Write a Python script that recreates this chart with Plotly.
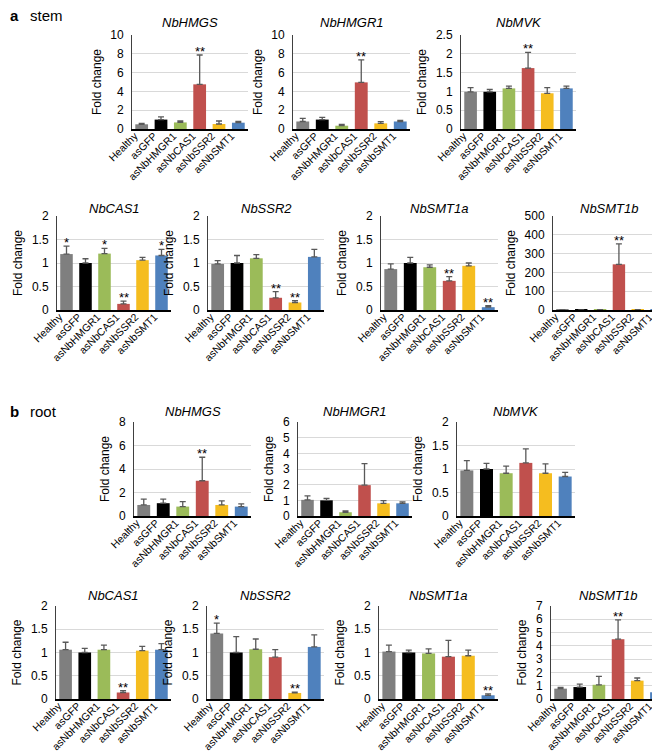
import plotly.graph_objects as go

W, H = 660, 755

categories = ["Healthy", "asGFP", "asNbHMGR1", "asNbCAS1", "asNbSSR2", "asNbSMT1"]
colors = ["#7F7F7F", "#000000", "#9BBB59", "#C0504D", "#F5BD1F", "#4F81BD"]

# ---- stem ----
stem_HMGS = [0.5, 1.0, 0.7, 4.75, 0.53, 0.67]
stem_HMGS_err = [0.1, 0.28, 0.15, 3.12, 0.32, 0.15]
stem_HMGS_sig = ["", "", "", "**", "", ""]

stem_HMGR1 = [0.8, 1.0, 0.35, 4.96, 0.6, 0.8]
stem_HMGR1_err = [0.33, 0.24, 0.15, 2.4, 0.18, 0.12]
stem_HMGR1_sig = ["", "", "", "**", "", ""]

stem_MVK = [0.99, 0.99, 1.08, 1.62, 0.95, 1.08]
stem_MVK_err = [0.11, 0.06, 0.06, 0.42, 0.15, 0.06]
stem_MVK_sig = ["", "", "", "**", "", ""]

stem_CAS1 = [1.19, 1.0, 1.2, 0.13, 1.06, 1.16]
stem_CAS1_err = [0.17, 0.09, 0.11, 0.06, 0.06, 0.13]
stem_CAS1_sig = ["*", "", "*", "**", "", "*"]

stem_SSR2 = [0.98, 1.0, 1.1, 0.26, 0.16, 1.13]
stem_SSR2_err = [0.07, 0.16, 0.08, 0.13, 0.04, 0.16]
stem_SSR2_sig = ["", "", "", "**", "**", ""]

stem_SMT1a = [0.87, 1.0, 0.91, 0.62, 0.94, 0.06]
stem_SMT1a_err = [0.11, 0.12, 0.05, 0.09, 0.06, 0.03]
stem_SMT1a_sig = ["", "", "", "**", "", "**"]

stem_SMT1b = [0.8, 1.0, 1.2, 243, 1.5, 0.3]
stem_SMT1b_err = [0.05, 0.05, 0.05, 109, 0.05, 0.05]
stem_SMT1b_sig = ["", "", "", "**", "", ""]

# ---- root ----
root_HMGS = [0.94, 1.09, 0.8, 3.0, 0.94, 0.8]
root_HMGS_err = [0.49, 0.34, 0.43, 2.0, 0.35, 0.23]
root_HMGS_sig = ["", "", "", "**", "", ""]

root_HMGR1 = [1.03, 1.0, 0.24, 1.97, 0.81, 0.81]
root_HMGR1_err = [0.25, 0.13, 0.08, 1.37, 0.17, 0.09]
root_HMGR1_sig = ["", "", "", "", "", ""]

root_MVK = [0.97, 1.0, 0.91, 1.13, 0.91, 0.84]
root_MVK_err = [0.21, 0.12, 0.15, 0.3, 0.2, 0.09]
root_MVK_sig = ["", "", "", "", "", ""]

root_CAS1 = [1.06, 1.0, 1.06, 0.14, 1.04, 1.06]
root_CAS1_err = [0.16, 0.09, 0.1, 0.04, 0.09, 0.13]
root_CAS1_sig = ["", "", "", "**", "", ""]

root_SSR2 = [1.41, 1.0, 1.07, 0.9, 0.13, 1.12]
root_SSR2_err = [0.22, 0.34, 0.22, 0.16, 0.02, 0.26]
root_SSR2_sig = ["*", "", "", "", "**", ""]

root_SMT1a = [1.02, 1.0, 0.98, 0.91, 0.93, 0.08]
root_SMT1a_err = [0.14, 0.05, 0.1, 0.35, 0.12, 0.03]
root_SMT1a_sig = ["", "", "", "", "", "**"]

root_SMT1b = [0.78, 0.9, 1.07, 4.5, 1.38, 0.5]
root_SMT1b_err = [0.1, 0.22, 0.63, 1.45, 0.2, 0.25]
root_SMT1b_sig = ["", "", "", "**", "", ""]

FONT = "Arial, Liberation Sans, sans-serif"

# panel: (title, values, err, sig, x px range, y px range, y max, dtick, title y px)
panels = [
    ("NbHMGS", stem_HMGS, stem_HMGS_err, stem_HMGS_sig, (124, 240), (27, 121), 10, 2, 15),
    ("NbHMGR1", stem_HMGR1, stem_HMGR1_err, stem_HMGR1_sig, (285, 402), (27, 121), 10, 2, 15),
    ("NbMVK", stem_MVK, stem_MVK_err, stem_MVK_sig, (453, 568), (27, 121), 2.5, 0.5, 15),
    ("NbCAS1", stem_CAS1, stem_CAS1_err, stem_CAS1_sig, (49, 163), (208, 302), 2, 0.5, 200),
    ("NbSSR2", stem_SSR2, stem_SSR2_err, stem_SSR2_sig, (200, 316), (208, 302), 2, 0.5, 200),
    ("NbSMT1a", stem_SMT1a, stem_SMT1a_err, stem_SMT1a_sig, (373, 490), (208, 302), 2, 0.5, 200),
    ("NbSMT1b", stem_SMT1b, stem_SMT1b_err, stem_SMT1b_sig, (545, 658), (208, 302), 500, 100, 200),
    ("NbHMGS", root_HMGS, root_HMGS_err, root_HMGS_sig, (126, 243), (414, 508), 8, 2, 403),
    ("NbHMGR1", root_HMGR1, root_HMGR1_err, root_HMGR1_sig, (290, 404), (414, 508), 6, 1, 403),
    ("NbMVK", root_MVK, root_MVK_err, root_MVK_sig, (449, 567), (414, 508), 2, 0.5, 403),
    ("NbCAS1", root_CAS1, root_CAS1_err, root_CAS1_sig, (48, 163), (598, 691), 2, 0.5, 587),
    ("NbSSR2", root_SSR2, root_SSR2_err, root_SSR2_sig, (199, 316), (598, 691), 2, 0.5, 587),
    ("NbSMT1a", root_SMT1a, root_SMT1a_err, root_SMT1a_sig, (371, 490), (598, 691), 2, 0.5, 587),
    ("NbSMT1b", root_SMT1b, root_SMT1b_err, root_SMT1b_sig, (543, 658), (598, 691), 7, 1, 587),
]

fig = go.Figure()
annotations = []
layout = {}

for i, (title, vals, errs, sig, xpx, ypx, ymax, dtick, ty) in enumerate(panels, start=1):
    xa = "x" if i == 1 else f"x{i}"
    ya = "y" if i == 1 else f"y{i}"
    fig.add_trace(go.Bar(
        x=categories, y=vals, xaxis=xa, yaxis=ya,
        marker=dict(color=colors, line=dict(width=0)),
        error_y=dict(type="data", symmetric=False, array=errs,
                     arrayminus=[0] * len(errs), color="#595959",
                     thickness=1.3, width=3),
        showlegend=False, hoverinfo="skip",
    ))
    xkey = "xaxis" if i == 1 else f"xaxis{i}"
    ykey = "yaxis" if i == 1 else f"yaxis{i}"
    layout[xkey] = dict(
        domain=[xpx[0] / W, xpx[1] / W], anchor=ya,
        tickangle=-45, tickfont=dict(family=FONT, size=10.5, color="black"),
        showline=True, linecolor="black", linewidth=1.5,
        ticks="", showgrid=False, automargin=False, fixedrange=True,
        ticklabelstandoff=-5, ticklabelshift=-7,
    )
    layout[ykey] = dict(
        domain=[1 - ypx[1] / H, 1 - ypx[0] / H], anchor=xa,
        range=[0, ymax], dtick=dtick, tick0=0,
        tickfont=dict(family=FONT, size=12, color="black"),
        showline=True, linecolor="#404040", linewidth=1,
        showgrid=True, gridcolor="#D9D9D9", gridwidth=1,
        zeroline=False, ticks="", ticklabelstandoff=5,
        title=dict(text="Fold change", font=dict(family=FONT, size=12, color="black"), standoff=6),
        automargin=False, fixedrange=True,
    )
    annotations.append(dict(
        text=title, xref="paper", yref="paper",
        x=(xpx[0] + xpx[1]) / 2 / W, y=1 - ty / H,
        xanchor="center", yanchor="middle", showarrow=False,
        font=dict(family=FONT, size=13, color="black", style="italic"),
    ))
    for c, v, e, s in zip(categories, vals, errs, sig):
        if s:
            annotations.append(dict(
                text=s, x=c, y=v + e, xref=xa, yref=ya,
                xanchor="center", yanchor="bottom", yshift=-6, showarrow=False,
                font=dict(family=FONT, size=13, color="black"),
            ))

# panel letters
for letter, word, ypix in [("a", "stem", 8), ("b", "root", 403)]:
    annotations.append(dict(text=f"<b>{letter}</b>", xref="paper", yref="paper",
                            x=0 / W, y=1 - ypix / H, xanchor="left", yanchor="middle",
                            showarrow=False, font=dict(family=FONT, size=15, color="black")))
    annotations.append(dict(text=word, xref="paper", yref="paper",
                            x=20 / W, y=1 - ypix / H, xanchor="left", yanchor="middle",
                            showarrow=False, font=dict(family=FONT, size=15, color="black")))

fig.update_layout(
    width=W, height=H,
    margin=dict(l=0, r=0, t=0, b=0),
    paper_bgcolor="white", plot_bgcolor="white",
    bargap=0.34,
    annotations=annotations,
    **layout,
)

fig.write_html("out.html")
